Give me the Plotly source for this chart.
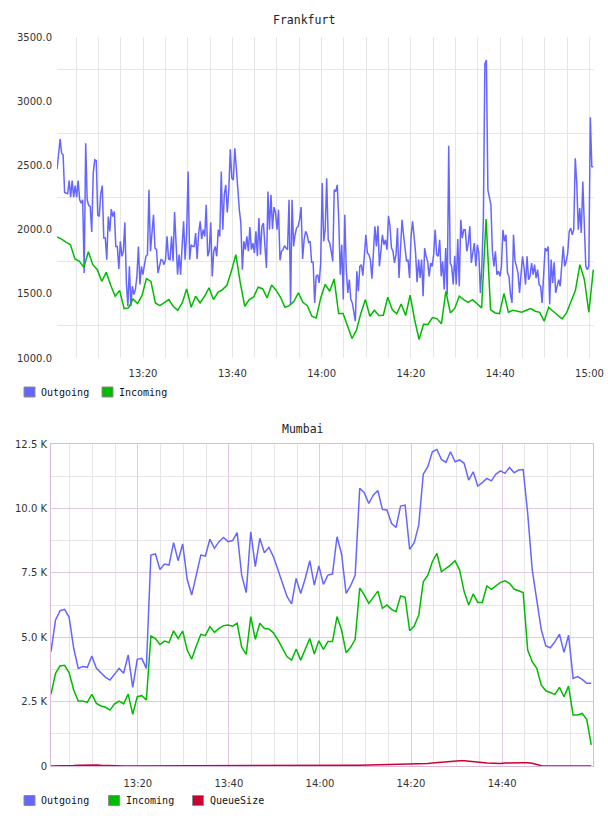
import pandas as pd
import plotly.graph_objects as go

# ---------------- Frankfurt data ----------------
fra_outgoing = [
    2470, 2620, 2706, 2595, 2582, 2289, 2284, 2279, 2382, 2253, 2382, 2253, 2343, 2253, 2382, 2232,
    2206, 2232, 1662, 2672, 2232, 2188, 2180, 1981, 2439, 2543, 2538, 2115, 2102, 2279, 2343, 1934,
    1934, 1766, 2102, 1986, 2160, 2102, 2141, 1869, 1869, 1693, 1908, 1792, 1831, 2056, 1585, 1403,
    1714, 1403, 1559, 1494, 1533, 1636, 1869, 1572, 1714, 1649, 1727, 1792, 1805, 2310, 1831, 2012,
    2115, 1856, 1844, 1662, 1727, 1766, 1761, 1727, 1766, 1947, 1771, 1766, 1947, 1753, 2136, 1869,
    1649, 1805, 1649, 1869, 2064, 1766, 1973, 2452, 1766, 1882, 1869, 1869,
    1973, 1771, 1973, 2064, 1926, 1999, 1947, 2193, 1792, 1831, 2056, 1636, 1831, 1869, 1792, 1999,
    1947, 2452, 1999, 2271, 2349, 2134, 2310, 2626, 2400, 2387, 2633, 2478, 2297, 2154, 2051, 1688,
    1908, 1844, 1947, 1831, 2020, 1844, 1895, 1818, 1986, 1792, 2090, 1805, 2025, 2051, 1869, 1701,
    2297, 1999, 2271, 2004, 2175, 2134, 1999, 2154, 1761, 1831, 1844, 1875, 1856, 1844, 2232, 1416,
    2232, 1869, 1960, 2012, 2025, 2077, 2175, 1771, 1921, 1986, 1960, 1900, 1908, 1745, 1745, 1429,
    1636, 1649, 1585, 1740, 2362, 1908, 1999, 2400, 1921, 1895,
    1831, 1753, 2310, 2297, 2349, 2077, 1649, 1882, 1455, 2115, 1688, 1507, 1610, 1455, 1429, 1364,
    1287, 1675, 1520, 1714, 1727, 1642, 1844, 1960, 1818, 1805, 1766, 1618, 1818, 2025, 1869, 2030,
    1714, 1818, 1960, 1882, 1921, 1844, 2108, 2025, 1856, 1831, 1740, 1805, 2012, 1623, 1831, 2077,
    1960, 1831, 1753, 1766, 1623, 1947, 2064, 1947, 1818, 1590, 1766, 1623, 1766, 1481, 1856, 1792,
    1753, 1636, 1740, 1714, 1805, 1999, 1805, 1792, 1921, 1636, 1753, 1533, 1856, 1494, 2652, 1740,
    1714, 1572, 1797, 1572, 1926, 1559, 2077, 1934, 1999, 1999,
    1831, 1895, 2025, 1740, 1831, 1895, 1714, 1882, 1818, 1507, 1714, 2077, 3290, 3320, 2310, 2258,
    2193, 1831, 1714, 1831, 1649, 1675, 1636, 1714, 1999, 1908, 1960, 1662, 1636, 1494, 1429, 1960,
    1753, 1714, 1662, 1507, 1623, 1792, 1701, 1572, 1792, 1610, 1636, 1740, 1649, 1727, 1623, 1688,
    1572, 1559, 1429, 1610, 1856, 1831, 1869, 1416, 1766, 1585, 1745, 1507, 1559, 1610, 1559, 1714,
    1869, 1714, 1753, 1818, 1986, 2012, 1960, 1999, 2556, 2362, 1999, 2167, 1973, 2374, 2077, 1714,
    1688, 1714, 2875, 2490, 2490,
]

fra_incoming = [
    1942, 1926, 1903, 1882, 1771, 1753, 1706, 1828, 1727, 1688, 1597, 1667, 1566, 1481, 1525, 1385,
    1390, 1460, 1424, 1486, 1618, 1597, 1429, 1408, 1432, 1455, 1403, 1372, 1429, 1538,
    1395, 1481, 1429, 1481, 1546, 1455, 1512, 1533, 1566, 1675, 1805, 1585, 1403, 1455, 1476, 1551,
    1540, 1468, 1569, 1528, 1473, 1395, 1408, 1442, 1507, 1434, 1408, 1325, 1312, 1468, 1574, 1520,
    1616, 1346, 1346, 1248, 1152, 1217, 1351, 1455, 1325, 1372, 1331, 1333, 1473, 1377, 1344, 1421,
    1331, 1489, 1300, 1144, 1263, 1261, 1315, 1307, 1266, 1520, 1351, 1388, 1481, 1455,
    1434, 1455, 1424, 1390, 2082, 1377, 1351, 1346, 1502, 1356, 1372, 1364, 1356, 1372, 1385, 1364,
    1356, 1287, 1395, 1364, 1338, 1305, 1351, 1442, 1528, 1727, 1610, 1356, 1688,
]

fra_yticks = [1000, 1500, 2000, 2500, 3000, 3500]
fra_yticktext = ["1000.0", "1500.0", "2000.0", "2500.0", "3000.0", "3500.0"]
fra_ygrid = [1250, 1750, 2250, 2750, 3250]

# ---------------- Mumbai data (thousands) ----------------
mum_outgoing = [
    4.44, 5.67, 6.03, 6.08, 5.77, 4.57, 3.79, 3.86, 3.83, 4.27, 3.79, 3.60, 3.44, 3.34, 3.57, 3.79,
    3.60, 4.31, 3.05, 4.14, 4.18, 3.79,
    8.19, 8.23, 7.63, 7.84, 7.80, 8.67, 7.97, 8.62, 7.24, 6.64, 7.41, 8.19, 8.15, 8.80, 8.45, 8.71,
    8.87, 8.71, 8.75, 9.06, 7.41, 6.73, 9.09, 7.74, 8.84, 8.28, 8.49, 8.12, 7.61, 7.09, 6.57, 6.29,
    7.28, 6.70,
    7.28, 7.97, 7.02, 7.77, 7.05, 7.41, 7.45, 8.90, 8.23, 6.70, 7.00, 7.41, 10.78, 10.61, 10.19, 10.52,
    10.69, 9.96, 9.94, 9.42, 9.26, 10.09, 10.13, 8.41, 8.67, 9.35, 11.33, 11.62, 12.20, 12.29, 11.90,
    11.79, 12.20, 11.81, 11.88, 11.75, 11.10, 11.42, 10.87, 11.00, 11.16, 11.07, 11.33, 11.46, 11.36,
    11.59, 11.38, 11.49, 11.51, 9.81, 7.61,
    6.44, 5.28, 4.66, 4.59, 4.83, 5.12, 4.41, 5.08, 3.40, 3.47, 3.36, 3.21, 3.21,
]

mum_incoming = [
    2.78, 3.60, 3.88, 3.91, 3.62, 2.95, 2.52, 2.52, 2.47, 2.78, 2.43, 2.33, 2.28, 2.17, 2.41, 2.52,
    2.41, 2.79, 2.01, 2.69, 2.73, 2.56,
    5.05, 4.95, 4.72, 4.85, 4.79, 5.25, 4.95, 5.24, 4.50, 4.15, 4.66, 5.11, 5.06, 5.41, 5.19, 5.34,
    5.45, 5.47, 5.43, 5.54, 4.61, 4.33, 5.80, 4.92, 5.54, 5.34, 5.32, 5.17, 4.89, 4.57, 4.24, 4.11,
    4.54, 4.11,
    4.53, 4.95, 4.35, 4.86, 4.53, 4.83, 4.83, 5.80, 5.28, 4.40, 4.61, 4.92,
    6.91, 6.64, 6.31, 6.57, 6.79, 6.12, 6.25, 6.08, 5.99, 6.60, 6.55, 5.25, 5.43, 5.86, 7.15, 7.41,
    7.93, 8.25, 7.54, 7.67, 7.80, 7.97, 7.61, 6.77, 6.25, 6.68, 6.35, 6.35, 6.99, 6.86, 6.99, 7.13,
    7.19, 7.09, 6.87, 6.79, 6.73,
    4.50, 4.05, 3.79, 3.14, 2.92, 2.86, 2.78, 3.05, 2.69, 3.10, 1.98, 1.98, 2.04, 1.81, 0.82,
]

mum_queue = [
    0, 0, 0, 0, 10, 20, 30, 35, 40, 40, 35, 25, 15, 5,
    0, 0, 0, 0, 0, 0, 0, 0, 0, 0, 0, 0, 0, 0, 0, 0, 0, 0, 0, 0, 0, 0, 0, 0, 0, 0, 0, 0, 0, 0, 0, 0,
    0, 0, 0, 0, 0, 0, 0, 0, 0, 0, 0, 0, 0, 0,
    5, 8, 10, 15, 18, 20, 25, 28, 32, 36,
    40, 42, 44, 46, 48, 50, 52, 54, 56, 58,
    60, 65, 75, 95, 115, 130, 150, 170, 185, 195,
    200, 200, 190, 170, 150, 135, 120, 110, 100, 100,
    115, 125, 130, 130, 130, 130, 110,
    60, 10, 0, 0, 0, 0, 0, 0, 0, 0, 0, 0, 0,
]

mum_yticks = [0, 2.5, 5.0, 7.5, 10.0, 12.5]
mum_yticktext = ["0", "2.5 K", "5.0 K", "7.5 K", "10.0 K", "12.5 K"]
mum_ygrid = [1.25, 3.75, 6.25, 8.75, 11.25]

fra_series = ["Outgoing", "Incoming"]
mum_series = ["Outgoing", "Incoming", "QueueSize"]

DAY = "2015-06-01 "
fra_t_out = pd.date_range(DAY + "13:00:45", DAY + "15:00:51", periods=len(fra_outgoing))
fra_t_in = pd.date_range(DAY + "13:00:45", DAY + "15:00:51", periods=len(fra_incoming))
mum_t = pd.date_range(DAY + "13:00:56", DAY + "14:59:35", periods=len(mum_outgoing))

COLORS = {"Outgoing": "#6666ff", "Incoming": "#00bb00", "QueueSize": "#cc0033"}
GRID = "#e6e6e6"
PINK = "#e4c8e4"
PINK_AX = "#dcb8dc"
TXT = "#333333"
MONO = "DejaVu Sans Mono"
SANS = "DejaVu Sans"

fig = go.Figure()

fig.add_trace(go.Scatter(x=fra_t_out, y=fra_outgoing, mode="lines", name="Outgoing",
                         line=dict(color=COLORS["Outgoing"], width=1.5), showlegend=False,
                         xaxis="x", yaxis="y"))
fig.add_trace(go.Scatter(x=fra_t_in, y=fra_incoming, mode="lines", name="Incoming",
                         line=dict(color=COLORS["Incoming"], width=1.5), showlegend=False,
                         xaxis="x", yaxis="y"))

fig.add_trace(go.Scatter(x=mum_t, y=mum_outgoing, mode="lines", name="Outgoing",
                         line=dict(color=COLORS["Outgoing"], width=1.5), showlegend=False,
                         xaxis="x2", yaxis="y2"))
fig.add_trace(go.Scatter(x=mum_t, y=mum_incoming, mode="lines", name="Incoming",
                         line=dict(color=COLORS["Incoming"], width=1.5), showlegend=False,
                         xaxis="x2", yaxis="y2"))
fig.add_trace(go.Scatter(x=mum_t, y=[q / 1000 for q in mum_queue], mode="lines", name="QueueSize",
                         line=dict(color=COLORS["QueueSize"], width=1.5), showlegend=False,
                         xaxis="x2", yaxis="y2"))

W, H = 608, 816


def px_x(p):
    return p / W


def px_y(p):
    return 1 - p / H


# ---- legends drawn as swatches + labels (paper coordinates) ----
shapes = []
annotations = []


def legend_row(names, swatch_lefts, yc):
    for name, left in zip(names, swatch_lefts):
        shapes.append(dict(type="rect", xref="paper", yref="paper",
                           x0=px_x(left), x1=px_x(left + 11),
                           y0=px_y(yc + 5), y1=px_y(yc - 5),
                           fillcolor=COLORS[name], line=dict(color="#8c8c8c", width=1)))
        annotations.append(dict(text=name, xref="paper", yref="paper",
                                x=px_x(left + 15), y=px_y(yc), xanchor="left", yanchor="middle",
                                showarrow=False,
                                font=dict(family=MONO, size=10, color="#111111")))


legend_row(fra_series, [24, 102], 392)
legend_row(mum_series, [24, 108.5, 192.5], 800.5)

annotations.append(dict(text="Frankfurt", x=px_x(304), y=px_y(20), xref="paper", yref="paper",
                        showarrow=False, xanchor="center", yanchor="middle",
                        font=dict(family=MONO, size=11.5, color="#222222")))
annotations.append(dict(text="Mumbai", x=px_x(303), y=px_y(429), xref="paper", yref="paper",
                        showarrow=False, xanchor="center", yanchor="middle",
                        font=dict(family=MONO, size=11.5, color="#222222")))

fig.update_layout(
    width=W, height=H, autosize=False,
    margin=dict(l=0, r=0, t=0, b=0, pad=0, autoexpand=False),
    paper_bgcolor="white", plot_bgcolor="white",
    font=dict(family=SANS, size=10, color=TXT),
    showlegend=False,
    xaxis=dict(
        domain=[px_x(57), px_x(594)], anchor="y", type="date", automargin=False,
        range=[DAY + "13:00:44", DAY + "15:01:00"],
        tick0=DAY + "13:00", dtick=20 * 60 * 1000, tickformat="%H:%M",
        showgrid=True, gridcolor=GRID, gridwidth=1,
        minor=dict(dtick=5 * 60 * 1000, tick0=DAY + "13:00", showgrid=True, gridcolor=GRID, gridwidth=1),
        ticks="", showline=False, zeroline=False, ticklabelstandoff=8,
        tickfont=dict(family=SANS, size=10, color=TXT),
    ),
    yaxis=dict(
        domain=[px_y(358), px_y(37)], anchor="x", automargin=False,
        range=[1000, 3500], tickvals=fra_yticks, ticktext=fra_yticktext,
        showgrid=False, zeroline=False, ticks="", showline=False,
        minor=dict(tickvals=fra_ygrid, showgrid=True, gridcolor=GRID, gridwidth=1),
        ticklabelstandoff=4,
        tickfont=dict(family=SANS, size=10, color=TXT),
    ),
    xaxis2=dict(
        domain=[px_x(51), px_x(593)], anchor="y2", type="date", automargin=False,
        range=[DAY + "13:00:56", DAY + "14:59:58"],
        tick0=DAY + "13:00", dtick=20 * 60 * 1000, tickformat="%H:%M",
        showgrid=True, gridcolor=PINK, gridwidth=1,
        minor=dict(dtick=5 * 60 * 1000, tick0=DAY + "13:00", showgrid=True, gridcolor=GRID, gridwidth=1),
        ticks="", showline=True, linecolor=PINK_AX, linewidth=1, mirror=True,
        zeroline=False, ticklabelstandoff=8,
        tickfont=dict(family=SANS, size=10, color=TXT),
    ),
    yaxis2=dict(
        domain=[px_y(766), px_y(444)], anchor="x2", automargin=False,
        range=[0, 12.5], tickvals=mum_yticks, ticktext=mum_yticktext,
        showgrid=True, gridcolor=PINK, gridwidth=1,
        minor=dict(tickvals=mum_ygrid, showgrid=True, gridcolor=GRID, gridwidth=1),
        zeroline=False, ticks="", showline=True, linecolor=PINK_AX, linewidth=1, mirror=True,
        ticklabelstandoff=1,
        tickfont=dict(family=SANS, size=10, color=TXT),
    ),
    shapes=shapes,
    annotations=annotations,
)

fig.write_html("out.html")
